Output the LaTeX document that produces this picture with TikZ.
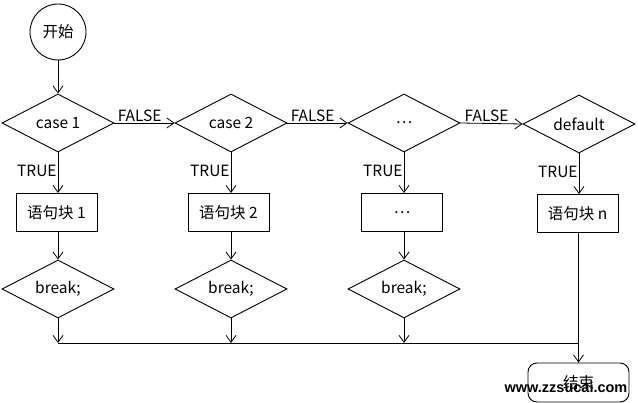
\documentclass[tikz,border=0pt]{standalone}
\usepackage{fontspec}
\setmainfont{Noto Sans CJK SC}
\newfontfamily\wmfont{Liberation Sans}
\usetikzlibrary{shapes.geometric,arrows.meta}
\begin{document}
\begin{tikzpicture}[x=1pt,y=-1pt,
  every node/.style={font=\fontsize{15.5}{17}\selectfont},
  dia/.style={draw,line width=0.9pt,diamond,aspect=1.93,minimum width=112pt,minimum height=58pt,inner sep=0pt},
  blk/.style={draw,line width=0.9pt,rectangle,minimum width=81pt,minimum height=38pt,inner sep=0pt},
  lbl/.style={inner sep=1pt},
  arr/.style={line width=0.8pt,-{Straight Barb[length=7pt,width=10pt,line width=0.8pt]}},
  ln/.style={line width=0.8pt}]
\useasboundingbox (0,0) rectangle (638,403);
\node[draw,line width=0.9pt,circle,minimum size=56pt,inner sep=0pt] (start) at (58,32) {开始};
\node[dia] (d1) at (58,123) {case 1};
\node[dia] (d2) at (231,123) {case 2};
\node[dia] (d3) at (404,123) {…};
\node[dia] (d4) at (579,124) {default};
\node[blk] (b1) at (56.5,212.5) {语句块 1};
\node[blk] (b2) at (228.5,212.5) {语句块 2};
\node[blk] (b3) at (402,212.5) {…};
\node[blk] (b4) at (577.5,213.5) {语句块 n};
\node[dia] (k1) at (58,289) {break;};
\node[dia] (k2) at (231,289) {break;};
\node[dia] (k3) at (404,289) {break;};
\node[draw,line width=0.9pt,rounded corners=9pt,minimum width=101pt,minimum height=39pt,inner sep=0pt] (end) at (578.5,382.5) {结束};
\node[font=\wmfont\bfseries\fontsize{14.5}{16}\selectfont,inner sep=0pt] (wm) at (566,387) {www.zzsucai.com};
\coordinate (j1) at (58,343);
\coordinate (j2) at (231,343);
\coordinate (j3) at (404,343);
\coordinate (j4) at (579,343);
\draw[arr] (start) -- (d1);
\draw[arr] (d1.east) -- node[lbl,above,pos=0.42] {FALSE} (d2.west);
\draw[arr] (d2.east) -- node[lbl,above,pos=0.42] {FALSE} (d3.west);
\draw[arr] (d3.east) -- node[lbl,above,pos=0.42] {FALSE} (d4.west);
\draw[arr] (d1.south) -- node[lbl,left,pos=0.45] {TRUE} (d1.south |- b1.north);
\draw[arr] (d2.south) -- node[lbl,left,pos=0.45] {TRUE} (d2.south |- b2.north);
\draw[arr] (d3.south) -- node[lbl,left,pos=0.45] {TRUE} (d3.south |- b3.north);
\draw[arr] (d4.south) -- node[lbl,left,pos=0.45] {TRUE} (d4.south |- b4.north);
\draw[arr] (b1.south -| k1.north) -- (k1.north);
\draw[arr] (b2.south -| k2.north) -- (k2.north);
\draw[arr] (b3.south -| k3.north) -- (k3.north);
\draw[arr] (k1.south) -- (j1);
\draw[arr] (k2.south) -- (j2);
\draw[arr] (k3.south) -- (j3);
\draw[ln] (j1) -- (j4);
\draw[arr] (b4.south -| end.north) -- (end.north);
\end{tikzpicture}
\end{document}
